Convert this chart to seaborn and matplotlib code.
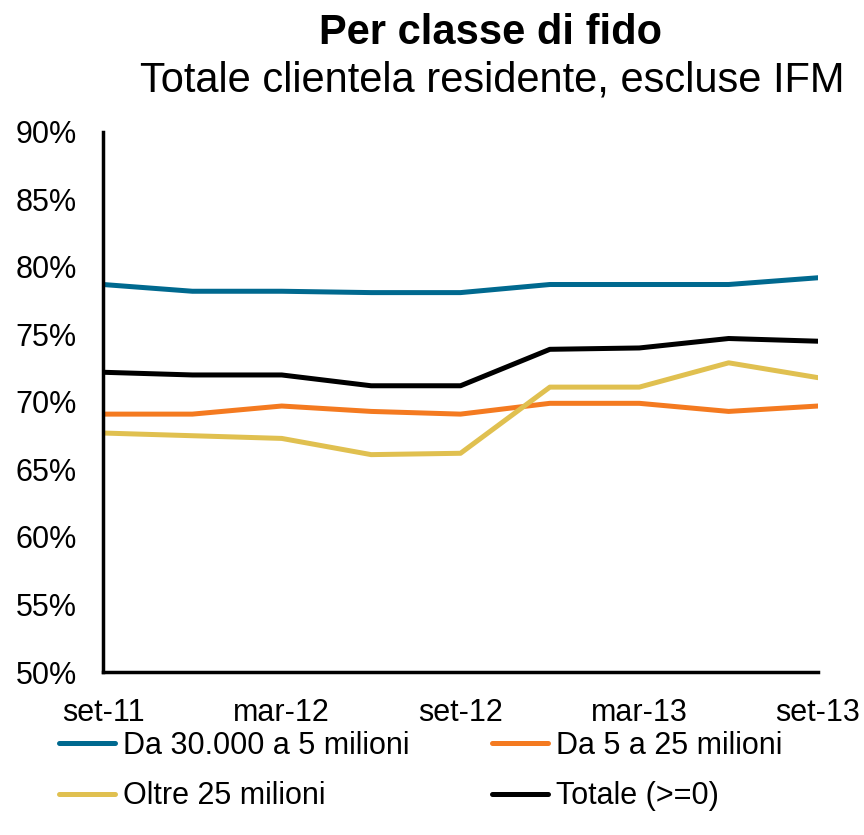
import matplotlib
matplotlib.use("Agg")
import matplotlib.pyplot as plt
import seaborn as sns
import pandas as pd
from matplotlib.lines import Line2D

sns.set_theme(style="white")
plt.rcParams['font.family'] = ['Liberation Sans', 'DejaVu Sans']
plt.rcParams['text.color'] = 'black'
plt.rcParams['xtick.color'] = 'black'
plt.rcParams['ytick.color'] = 'black'

periods = ["set-11", "dic-11", "mar-12", "giu-12", "set-12", "dic-12", "mar-13", "giu-13", "set-13"]
tick_labels = ["set-11", "mar-12", "set-12", "mar-13", "set-13"]
series_names = ["Da 30.000 a 5 milioni", "Da 5 a 25 milioni", "Oltre 25 milioni", "Totale (>=0)"]
da30k_5m = [78.7, 78.2, 78.2, 78.1, 78.1, 78.7, 78.7, 78.7, 79.2]
da5_25m = [69.1, 69.1, 69.7, 69.3, 69.1, 69.9, 69.9, 69.3, 69.7]
oltre25m = [67.7, 67.5, 67.3, 66.1, 66.2, 71.1, 71.1, 72.9, 71.8]
totale = [72.2, 72.0, 72.0, 71.2, 71.2, 73.9, 74.0, 74.7, 74.5]
colors = ["#00698F", "#F47A20", "#E0C050", "#000000"]

rows = []
for name, vals in zip(series_names, [da30k_5m, da5_25m, oltre25m, totale]):
    for i, v in enumerate(vals):
        rows.append({"idx": i, "period": periods[i], "value": v, "serie": name})
df = pd.DataFrame(rows)

fig = plt.figure(figsize=(8.64, 8.35), dpi=100)
ax = fig.add_axes([0.1192, 0.1952, 0.8276, 0.6468])
sns.lineplot(data=df, x="idx", y="value", hue="serie", hue_order=series_names,
             palette=colors, linewidth=3.6, ax=ax, legend=False)

ax.set_xlim(0, len(periods) - 1)
ax.set_ylim(50, 90)
ax.set_yticks(range(50, 91, 5))
ax.set_yticklabels([f"{v}%" for v in range(50, 91, 5)], fontsize=22)
tick_pos = [periods.index(t) for t in tick_labels]
ax.set_xticks(tick_pos)
ax.set_xticklabels(tick_labels, fontsize=22)
ax.set_xlabel("")
ax.set_ylabel("")
for s in ["top", "right"]:
    ax.spines[s].set_visible(False)
for s in ["left", "bottom"]:
    ax.spines[s].set_color("black")
    ax.spines[s].set_linewidth(2.5)
ax.tick_params(axis="x", direction="out", length=8, width=2, color="black", pad=11)
ax.tick_params(axis="y", length=0, pad=19)
ax.grid(False)

fig.text(0.568, 0.960, "Per classe di fido", ha="center", va="center", fontsize=30, fontweight="bold")
fig.text(0.570, 0.904, "Totale clientela residente, escluse IFM", ha="center", va="center", fontsize=30)

order = [0, 2, 1, 3]
handles = [Line2D([0], [0], color=colors[i], lw=3.6) for i in order]
labels = [series_names[i] for i in order]
fig.legend(handles, labels, loc="upper left", bbox_to_anchor=(0.036, 0.158), ncol=2,
           frameon=False, fontsize=22, handlelength=1.85, handletextpad=0.25,
           columnspacing=2.7, labelspacing=0.68)

fig.savefig("out.png", dpi=100)
